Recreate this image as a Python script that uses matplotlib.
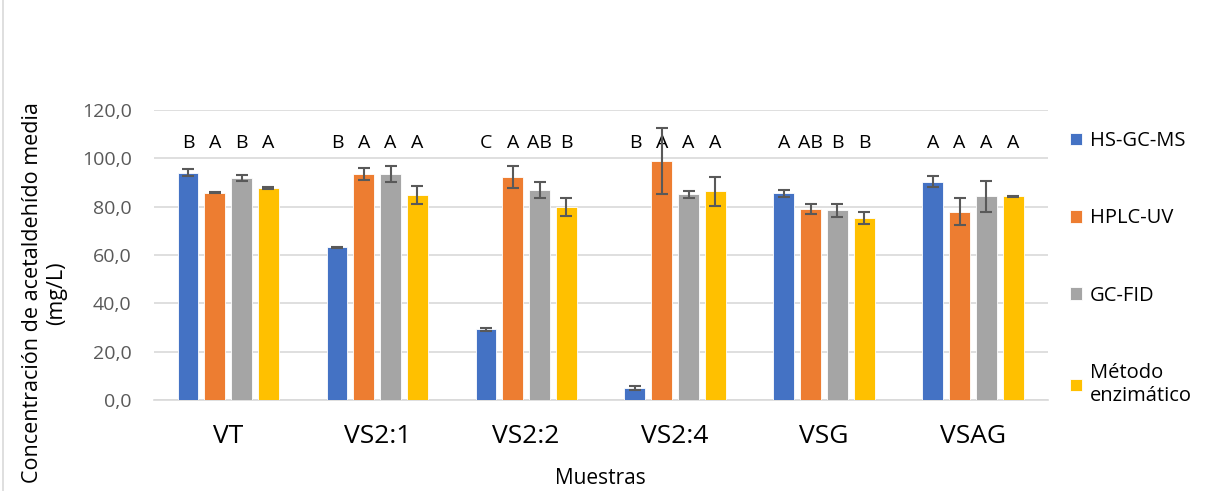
import numpy as np
import matplotlib
matplotlib.use("Agg")
import matplotlib.pyplot as plt
from matplotlib.lines import Line2D

plt.rcParams["font.family"] = ["Open Sans", "DejaVu Sans"]

muestras = ["VT", "VS2:1", "VS2:2", "VS2:4", "VSG", "VSAG"]
metodos = ["HS-GC-MS", "HPLC-UV", "GC-FID", "Método\nenzimático"]
colores = ["#4472C4", "#ED7D31", "#A5A5A5", "#FFC000"]

hs_gc_ms = [94.0, 63.2, 29.4, 5.0, 85.5, 90.3]
hplc_uv = [85.8, 93.6, 92.4, 99.0, 79.2, 78.0]
gc_fid = [92.0, 93.6, 86.9, 85.1, 78.5, 84.3]
enzimatico = [87.7, 84.8, 80.0, 86.3, 75.4, 84.4]

err_hs_gc_ms = [1.4, 0.3, 0.6, 0.8, 1.45, 2.3]
err_hplc_uv = [0.3, 2.6, 4.5, 13.6, 2.1, 5.6]
err_gc_fid = [1.3, 3.2, 3.3, 1.4, 2.6, 6.5]
err_enzimatico = [0.3, 3.8, 3.8, 5.9, 2.5, 0.2]

letras_hs_gc_ms = ["B", "B", "C", "B", "A", "A"]
letras_hplc_uv = ["A", "A", "A", "A", "AB", "A"]
letras_gc_fid = ["B", "A", "AB", "A", "B", "A"]
letras_enzimatico = ["A", "A", "B", "A", "B", "A"]

series = [hs_gc_ms, hplc_uv, gc_fid, enzimatico]
errores = [err_hs_gc_ms, err_hplc_uv, err_gc_fid, err_enzimatico]
letras = [letras_hs_gc_ms, letras_hplc_uv, letras_gc_fid, letras_enzimatico]

fig = plt.figure(figsize=(12.11, 4.91), dpi=100)
ax = fig.add_axes([0.127, 0.185, 0.738, 0.591])

x = np.arange(len(muestras))
ancho = 0.14
paso = 0.18
for i, (vals, errs, lets) in enumerate(zip(series, errores, letras)):
    pos = x + (i - 1.5) * paso
    ax.bar(pos, vals, ancho, color=colores[i], label=metodos[i], zorder=3,
           edgecolor="white", linewidth=0.6)
    ax.errorbar(pos, vals, yerr=errs, fmt="none", ecolor="#595959",
                elinewidth=1.5, capsize=4.5, capthick=1.5, zorder=4)
    for p, l in zip(pos, lets):
        ax.text(p, 106.5, l, ha="center", va="center", fontsize=14,
                color="black", clip_on=False)

ax.set_xlim(-0.5, len(muestras) - 0.5)
ax.set_ylim(0, 120)
ax.set_yticks(np.arange(0, 121, 20))
ax.set_yticklabels([f"{v:.1f}".replace(".", ",") for v in np.arange(0, 121, 20)],
                   fontsize=14, color="#595959")
ax.set_xticks(x)
ax.set_xticklabels(muestras, fontsize=19, color="black")
ax.tick_params(axis="both", length=0)
ax.tick_params(axis="y", pad=16)
ax.tick_params(axis="x", pad=17)
ax.grid(axis="y", color="#D9D9D9", linewidth=1.2, zorder=0)
for s in ["top", "right", "left"]:
    ax.spines[s].set_visible(False)
ax.spines["bottom"].set_color("#D9D9D9")
ax.spines["bottom"].set_linewidth(1.2)

ax.set_xlabel("Muestras", fontsize=15, color="black")
ax.xaxis.set_label_coords(0.5, -0.235)
ax.set_ylabel("Concentración de acetaldehído media\n(mg/L)", fontsize=15.5,
              color="black", linespacing=1.2)
ax.yaxis.set_label_coords(-0.097, 0.37)

ax.legend(loc="upper left", bbox_to_anchor=(1.005, 0.99), frameon=False,
          fontsize=14.5, handlelength=0.6, handleheight=0.6, handletextpad=0.4,
          labelspacing=2.85)

fig.add_artist(Line2D([3 / 1211, 3 / 1211], [0, 1], color="#D9D9D9", linewidth=1.2))

fig.savefig("out.png", dpi=100)
